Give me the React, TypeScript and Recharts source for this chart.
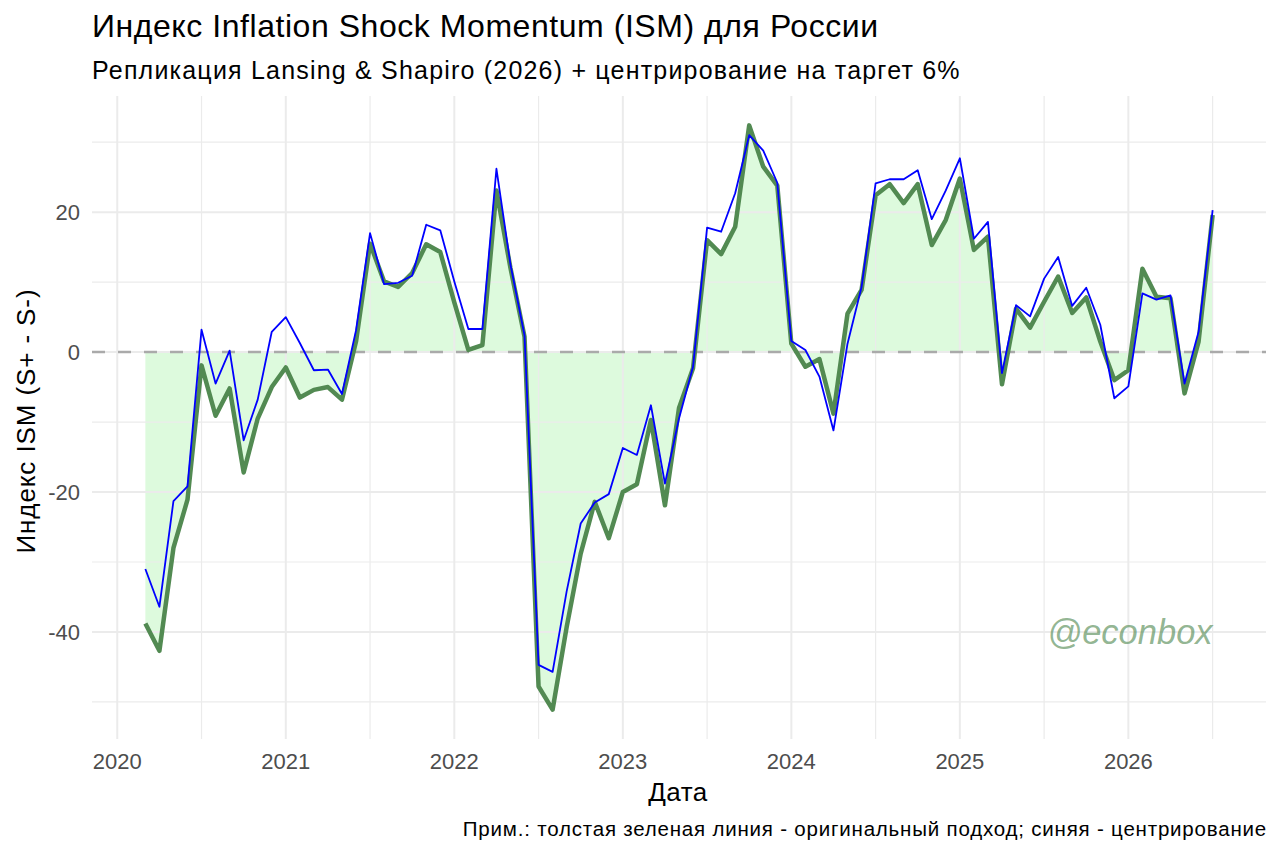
import React from 'react';
import {
  ComposedChart,
  Area,
  Line,
  XAxis,
  YAxis,
  ReferenceLine,
  ReferenceDot,
} from 'recharts';

// monthly observations, March 2020 .. July 2026
const startYear = 2020;
const startMonth = 3;

// original approach (thick green line)
const ismOriginal = [
  -38.8, -42.7, -28.0, -21.1, -1.9, -9.1, -5.2, -17.2, -9.5, -5.0,
  -2.2, -6.5, -5.4, -5.0, -6.8, 1.5, 15.5, 10.1, 9.3, 11.3,
  15.4, 14.3, 7.1, 0.3, 1.0, 23.1, 12.0, 2.2, -47.8, -51.1,
  -39.3, -28.8, -21.4, -26.6, -20.0, -18.9, -9.7, -21.9, -8.0, -2.3,
  16.0, 14.0, 17.9, 32.4, 26.5, 23.8, 1.2, -2.1, -1.0, -8.8,
  5.5, 8.9, 22.4, 24.0, 21.3, 24.0, 15.3, 18.9, 24.8, 14.6,
  16.5, -4.6, 6.2, 3.5, 7.2, 10.8, 5.6, 7.8, 1.5, -4.0,
  -2.6, 11.9, 7.9, 7.7, -5.9, 1.5, 19.6,
];

// centred on the 6% target (thin blue line)
const ismCentered = [
  -31.0, -36.4, -21.3, -19.2, 3.2, -4.5, 0.2, -12.6, -6.8, 2.9,
  5.0, 1.3, -2.6, -2.5, -6.0, 3.1, 17.0, 9.7, 9.9, 10.9,
  18.2, 17.4, 10.1, 3.3, 3.3, 26.2, 12.5, 2.4, -44.7, -45.7,
  -34.2, -24.5, -21.5, -20.3, -13.7, -14.7, -7.6, -18.8, -9.5, -2.1,
  17.8, 17.2, 22.7, 31.0, 28.8, 24.2, 1.6, 0.3, -3.5, -11.2,
  1.2, 9.3, 24.1, 24.7, 24.7, 26.0, 19.0, 23.1, 27.7, 16.2,
  18.6, -3.0, 6.7, 5.1, 10.5, 13.6, 6.6, 9.2, 3.9, -6.6,
  -4.9, 8.4, 7.5, 8.1, -4.5, 2.9, 20.3,
];

const yearTicks = [2020, 2021, 2022, 2023, 2024, 2025, 2026];
const yearMinor = [2020.5, 2021.5, 2022.5, 2023.5, 2024.5, 2025.5, 2026.5];
const yTicks = [-40, -20, 0, 20];
const yMinor = [-50, -30, -10, 10, 30];

const data = ismOriginal.map((v, i) => {
  const m = startMonth - 1 + i;
  return {
    t: startYear + Math.floor(m / 12) + (m % 12) / 12,
    original: v,
    centered: ismCentered[i],
  };
});

const FONT = '"Liberation Sans", Arial, Helvetica, sans-serif';
const GRID = '#ebebeb';

const watermark = (props: any) => {
  const vb = props.viewBox || {};
  return (
    <text
      x={vb.x + (vb.width || 0) / 2}
      y={vb.y + (vb.height || 0) / 2}
      textAnchor="end"
      dominantBaseline="central"
      fontFamily={FONT}
      fontStyle="italic"
      fontSize={34.5}
      fill="#548B54"
      fillOpacity={0.65}
    >
      @econbox
    </text>
  );
};

const txt: React.CSSProperties = { position: 'absolute', color: '#000', whiteSpace: 'nowrap', lineHeight: 'normal' };

export default function App() {
  return (
    <div style={{ position: 'relative', width: 1280, height: 853, background: '#fff', fontFamily: FONT }}>
      <style>{'body{margin:0}'}</style>
      <div style={{ ...txt, left: 92, top: 7.5, fontSize: 32, letterSpacing: 0.55 }}>
        Индекс Inflation Shock Momentum (ISM) для России
      </div>
      <div style={{ ...txt, left: 92, top: 55.5, fontSize: 25, letterSpacing: 1.2 }}>
        Репликация Lansing &amp; Shapiro (2026) + центрирование на таргет 6%
      </div>
      <div
        style={{
          ...txt,
          left: 26,
          top: 421,
          fontSize: 26,
          letterSpacing: 0.9,
          transform: 'translate(-50%, -50%) rotate(-90deg)',
        }}
      >
        Индекс ISM (S+ - S-)
      </div>
      <div style={{ ...txt, left: 678, top: 776.5, fontSize: 26, letterSpacing: 0.5, transform: 'translateX(-50%)' }}>
        Дата
      </div>
      <div style={{ ...txt, right: 13, top: 816.5, fontSize: 20.5, letterSpacing: 0.8 }}>
        Прим.: толстая зеленая линия - оригинальный подход; синяя - центрирование
      </div>

      <div style={{ position: 'absolute', left: 0, top: 0 }}>
        <ComposedChart width={1280} height={853} data={data} margin={{ top: 96, right: 14, bottom: 84, left: 0 }}>
          {yMinor.map((v) => (
            <ReferenceLine key={'ym' + v} y={v} stroke={GRID} strokeWidth={1.2} />
          ))}
          {yearMinor.map((v) => (
            <ReferenceLine key={'xm' + v} x={v} stroke={GRID} strokeWidth={1.2} />
          ))}
          {yTicks.map((v) => (
            <ReferenceLine key={'yM' + v} y={v} stroke={GRID} strokeWidth={2} />
          ))}
          {yearTicks.map((v) => (
            <ReferenceLine key={'xM' + v} x={v} stroke={GRID} strokeWidth={2} />
          ))}
          <XAxis
            dataKey="t"
            type="number"
            domain={[2019.85, 2026.8167]}
            ticks={yearTicks}
            allowDataOverflow
            axisLine={false}
            tickLine={false}
            tickSize={4}
            tickMargin={10}
            height={30}
            tick={{ fill: '#4d4d4d', fontSize: 22, fontFamily: FONT }}
          />
          <YAxis
            type="number"
            domain={[-55.3, 36.6]}
            ticks={yTicks}
            allowDataOverflow
            axisLine={false}
            tickLine={false}
            tickSize={4}
            tickMargin={8}
            width={92}
            tick={{ fill: '#4d4d4d', fontSize: 22, fontFamily: FONT }}
          />
          <Area
            dataKey="original"
            type="linear"
            baseValue={0}
            stroke="none"
            fill="#90EE90"
            fillOpacity={0.3}
            isAnimationActive={false}
          />
          <ReferenceLine y={0} stroke="#aaaaaa" strokeWidth={2.5} strokeDasharray="13 13" />
          <Line
            dataKey="original"
            type="linear"
            stroke="#528a52"
            strokeWidth={4.5}
            strokeLinejoin="round"
            dot={false}
            isAnimationActive={false}
          />
          <Line
            dataKey="centered"
            type="linear"
            stroke="#0000ff"
            strokeWidth={1.8}
            strokeLinejoin="round"
            dot={false}
            isAnimationActive={false}
          />
          <ReferenceDot
            x={2026.5}
            y={-40}
            r={1}
            fill="none"
            stroke="none"
            label={{ content: watermark }}
          />
        </ComposedChart>
      </div>
    </div>
  );
}
